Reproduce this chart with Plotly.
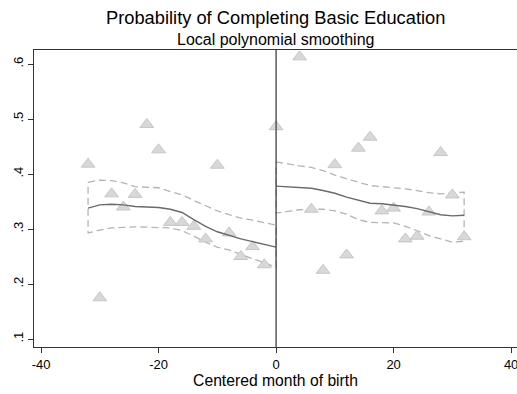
import plotly.graph_objects as go

# Scatter data: centered month of birth vs probability
pts_x = [-32, -30, -28, -26, -24, -22, -20, -18, -16, -14, -12, -10, -8, -6, -4, -2, 0,
         4, 6, 8, 10, 12, 14, 16, 18, 20, 22, 24, 26, 28, 30, 32]
pts_y = [0.418, 0.175, 0.364, 0.340, 0.363, 0.490, 0.444, 0.312, 0.312, 0.305, 0.282, 0.416,
         0.293, 0.250, 0.268, 0.235, 0.486,
         0.613, 0.336, 0.225, 0.417, 0.253, 0.447, 0.467, 0.333, 0.338, 0.282, 0.287, 0.331,
         0.439, 0.362, 0.286]

# Local polynomial fit, left of cutoff
left_x = [-32, -30, -28, -26, -24, -22, -20, -18, -16, -14, -12, -10, -8, -6, -4, -2, 0]
left_fit = [0.338, 0.344, 0.345, 0.344, 0.341, 0.340, 0.339, 0.336, 0.330, 0.317, 0.305,
            0.295, 0.288, 0.282, 0.277, 0.272, 0.267]
left_hi = [0.385, 0.389, 0.388, 0.384, 0.377, 0.376, 0.375, 0.368, 0.362, 0.352, 0.342,
           0.333, 0.326, 0.320, 0.316, 0.312, 0.307]
left_lo = [0.293, 0.298, 0.302, 0.303, 0.304, 0.304, 0.303, 0.302, 0.297, 0.287, 0.276,
           0.267, 0.262, 0.254, 0.246, 0.239, 0.230]

# Local polynomial fit, right of cutoff
right_x = [0, 2, 4, 6, 8, 10, 12, 14, 16, 18, 20, 22, 24, 26, 28, 30, 32]
right_fit = [0.378, 0.377, 0.376, 0.374, 0.370, 0.365, 0.358, 0.353, 0.347, 0.346, 0.344,
             0.341, 0.337, 0.331, 0.326, 0.324, 0.325]
right_hi = [0.422, 0.418, 0.415, 0.412, 0.406, 0.398, 0.391, 0.385, 0.379, 0.377, 0.376,
            0.373, 0.370, 0.366, 0.364, 0.366, 0.367]
right_lo = [0.329, 0.332, 0.335, 0.336, 0.336, 0.333, 0.327, 0.317, 0.312, 0.312, 0.311,
            0.305, 0.297, 0.288, 0.282, 0.276, 0.278]

x_ticks = [-40, -20, 0, 20, 40]
y_ticks = [0.1, 0.2, 0.3, 0.4, 0.5, 0.6]
y_labels = [".1", ".2", ".3", ".4", ".5", ".6"]

FONT = "Liberation Sans, Arial, sans-serif"
ci_style = dict(color="#b4b4b4", width=1.3, dash="7px,4px")

fig = go.Figure()

# CI outlines (closed polygons give the end caps)
for xs, hi, lo in [(left_x, left_hi, left_lo), (right_x, right_hi, right_lo)]:
    fig.add_trace(go.Scatter(
        x=xs + xs[::-1] + [xs[0]], y=hi + lo[::-1] + [hi[0]],
        mode="lines", line=ci_style, hoverinfo="skip", showlegend=False))

fig.add_trace(go.Scatter(
    x=pts_x, y=pts_y, mode="markers", showlegend=False,
    marker=dict(symbol="triangle-up", size=12, color="#d8d8d8",
                line=dict(color="#c6c6c6", width=1))))

for xs, fit in [(left_x, left_fit), (right_x, right_fit)]:
    fig.add_trace(go.Scatter(x=xs, y=fit, mode="lines", showlegend=False,
                             line=dict(color="#6a6a6a", width=1.4)))

fig.add_vline(x=0, line=dict(color="#404040", width=1.3))

fig.update_layout(
    width=517, height=394,
    margin=dict(l=34, r=0, t=50, b=47),
    paper_bgcolor="white", plot_bgcolor="white",
    font=dict(family=FONT, color="black"),
    annotations=[
        dict(text="Probability of Completing Basic Education", x=0.5, y=1.11,
             xref="paper", yref="paper", showarrow=False, font=dict(size=18.3),
             xanchor="center", yanchor="middle"),
        dict(text="Local polynomial smoothing", x=0.5, y=1.037,
             xref="paper", yref="paper", showarrow=False, font=dict(size=16),
             xanchor="center", yanchor="middle"),
    ],
    xaxis=dict(range=[-41.2, 41.0], tickvals=x_ticks, ticktext=[str(v) for v in x_ticks],
               showgrid=False, zeroline=False, showline=True, linecolor="#333",
               linewidth=1.3, mirror=True, ticks="outside", ticklen=5,
               tickcolor="#333", tickfont=dict(size=13), ticklabeloverflow="allow",
               title=dict(text="Centered month of birth", font=dict(size=15.7), standoff=4)),
    yaxis=dict(range=[0.0855, 0.6255], tickvals=y_ticks, ticktext=y_labels,
               showgrid=False, zeroline=False, showline=True, linecolor="#333",
               linewidth=1.3, ticks="outside", ticklen=5, tickcolor="#333",
               tickangle=-90, tickfont=dict(size=13)),
)

fig.write_html("out.html")
